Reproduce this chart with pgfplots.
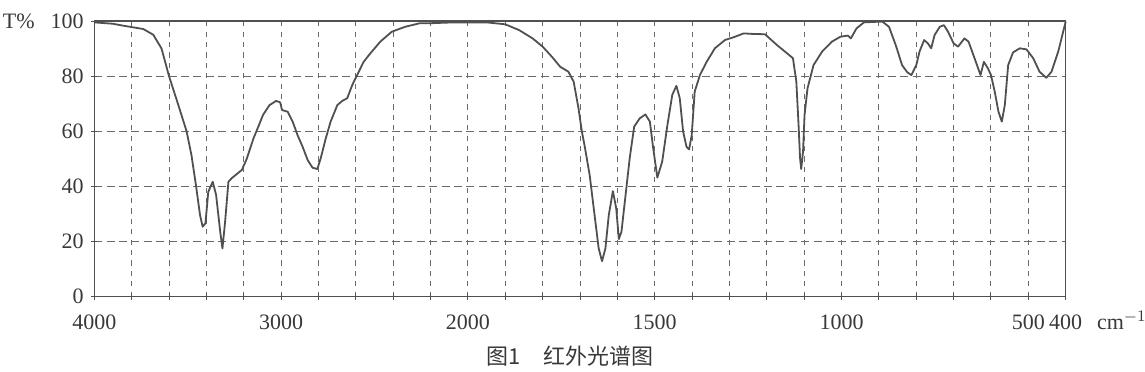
\documentclass[border=0pt]{standalone}
\usepackage{fontspec}
\setmainfont{Liberation Serif}
\newfontfamily\cjk{Noto Sans CJK SC}
\usepackage{pgfplots}
\usepackage{pgfplotstable}
\pgfplotsset{compat=1.18}
\definecolor{ink}{HTML}{505050}
\definecolor{gridc}{HTML}{6A6A6A}
\definecolor{txt}{HTML}{383838}

\pgfplotstableread{
w t
4000 99.5
3900 99.0
3845 98.3
3738 97.1
3684 95
3640 90
3600 80
3550 69.5
3506 60
3480 51.4
3456 40.5
3434 29.6
3420 25.4
3405 26.6
3390 38
3366 41.7
3348 36.9
3326 23.6
3314 17.5
3300 27
3282 41.7
3264 43
3210 46
3184 50
3148 57.4
3120 62
3097 65.9
3062 69.5
3027 71
3005 70.5
2995 67.7
2965 67.1
2938 63.5
2912 58.6
2885 54.4
2858 49.6
2832 46.8
2806 46.3
2788 50.2
2761 57.4
2735 63.5
2699 69.5
2673 71
2646 72
2619 76.8
2593 80.4
2558 85.2
2522 88.3
2469 92.5
2408 96.1
2336 97.9
2257 99.2
2200 99.2
2077 99.5
2000 99.5
1950 99.5
1900 98.8
1863 96.7
1827 93.7
1800 90.7
1775 87
1753 83.4
1731 81.6
1717 78
1704 68.3
1695 59.9
1688 55
1674 44
1661 29.6
1650 17.5
1641 12.9
1632 17.5
1623 29.6
1612 38.3
1603 32
1596 20.9
1589 23.6
1580 34.5
1567 50.2
1555 61.7
1540 64.7
1525 66.1
1513 63.5
1504 53.8
1493 43.2
1480 49
1466 62.3
1453 73.2
1442 76.5
1433 72
1424 59.9
1415 54.4
1408 53.4
1401 58.6
1393 74.4
1379 80.4
1361 85.2
1339 90.1
1312 93.1
1285 94.3
1262 95.5
1236 95.3
1205 95.2
1173 91.3
1146 88.3
1130 86.5
1121 78
1115 62.3
1111 50.2
1108 46.3
1103 52.6
1099 65.9
1091 75.6
1075 84
1052 88.9
1026 92.5
1003 94.3
983 94.7
975 93.7
960 97.3
940 99.5
891 99.8
873 97.9
855 91.3
838 84
824 81.4
813 80.4
800 84
791 89
779 93.1
769 91.9
760 90.1
751 94.9
737 97.9
726 98.5
715 96.1
700 91.9
688 90.7
671 93.7
660 92.5
644 86.5
628 80.4
619 85.2
608 82.8
600 80.4
590 74.4
580 67.1
571 63.5
563 69.5
554 84
541 88.6
523 90.1
505 89.7
487 86.5
470 81.6
452 79.4
438 81.6
420 88.9
400 99.8
}\irdata

\begin{document}
\fontsize{11pt}{13pt}\selectfont
\begin{tikzpicture}
\useasboundingbox (-47.15pt,-37.15pt) rectangle (525.35pt,148.35pt);
\begin{axis}[
  at={(0,0)}, anchor=south west,
  scale only axis, width=485.7pt, height=137.85pt,
  xmin=0, xmax=26, ymin=0, ymax=100,
  xtick={0,...,26},
  xticklabels={4000,,,,,3000,,,,,2000,,,,,1500,,,,,1000,,,,,500,400},
  ytick={0,20,40,60,80,100},
  xtick pos=bottom, ytick pos=left,
  tick align=center, major tick length=3pt,
  tick style={ink, line width=0.5pt},
  axis line style={ink, line width=0.6pt},
  grid=major,
  x grid style={gridc, line width=0.5pt, dash pattern=on 2.6pt off 2.6pt},
  y grid style={gridc, line width=0.5pt, dash pattern=on 4pt off 2.2pt},
  ticklabel style={text=txt, font=\fontsize{11pt}{13pt}\selectfont},
  xticklabel style={yshift=-3.5pt},
  /pgf/number format/assume math mode=true,
  clip=false,
]
\addplot[ink, line width=0.9pt, line join=round, no marks]
  table[x expr={\thisrow{w}>=2000 ? (4000-\thisrow{w})/200 : 10+(2000-\thisrow{w})/100}, y=t]{\irdata};
\end{axis}
\node[anchor=east, inner sep=0pt, text=txt] at (-29.65pt,137.85pt) {T\%};
\node[anchor=base west, inner sep=0pt, text=txt] at (501.2pt,-16.2pt) {cm$^{-1}$};
\node[text=txt] at (237.85pt,-29.65pt) {\cjk 图1\quad 红外光谱图};
\end{tikzpicture}
\end{document}
